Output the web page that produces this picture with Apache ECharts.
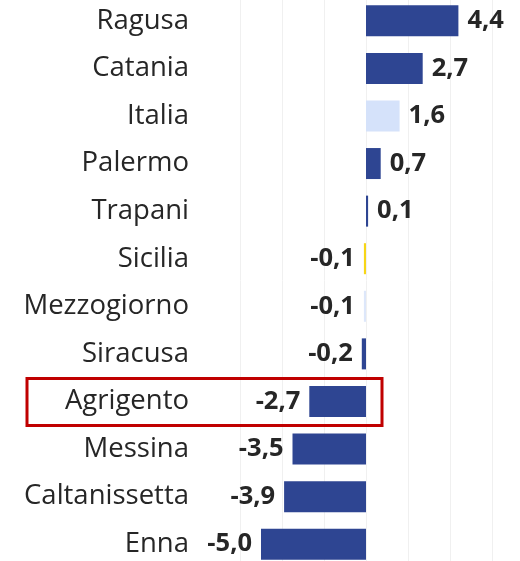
<!DOCTYPE html>
<html>
<head>
<meta charset="utf-8">
<script src="https://cdn.jsdelivr.net/npm/echarts@6/dist/echarts.min.js"></script>
<style>
  html, body { margin: 0; padding: 0; background: #ffffff; }
  #chart { width: 520px; height: 561px; }
</style>
</head>
<body>
<div id="chart"></div>
<script>
// ---- Data ----
var categories = ['Ragusa', 'Catania', 'Italia', 'Palermo', 'Trapani', 'Sicilia', 'Mezzogiorno', 'Siracusa', 'Agrigento', 'Messina', 'Caltanissetta', 'Enna'];
var values = [4.4, 2.7, 1.6, 0.7, 0.1, -0.1, -0.1, -0.2, -2.7, -3.5, -3.9, -5.0];
var highlighted = 'Agrigento';

// ---- Styles ----
var baseColor = '#2E4592';
var specialColors = { 'Italia': '#D5E2FA', 'Sicilia': '#F7D617', 'Mezzogiorno': '#DDE7FA' };
var textColor = '#262626';
var fontFamily = '"Open Sans", "Noto Sans", sans-serif';

function fmt(v) { return v.toFixed(1).replace('.', ','); }

var seriesData = categories.map(function (c, i) {
  var v = values[i];
  return {
    value: v,
    itemStyle: { color: specialColors[c] || baseColor },
    label: { position: v >= 0 ? 'right' : 'left' }
  };
});

var chart = echarts.init(document.getElementById('chart'), null, { renderer: 'canvas' });
chart.setOption({
  animation: false,
  backgroundColor: '#ffffff',
  grid: { left: 240, width: 294, top: -3, height: 571, containLabel: false, outerBoundsMode: 'none' },
  xAxis: {
    type: 'value',
    min: -6, max: 8, interval: 2,
    axisLine: { show: false },
    axisTick: { show: false },
    axisLabel: { show: false },
    splitLine: { show: true, lineStyle: { color: '#F0F0F0', width: 1 } }
  },
  yAxis: {
    type: 'category',
    data: categories,
    inverse: true,
    axisLine: { show: false },
    axisTick: { show: false },
    axisLabel: {
      margin: 51,
      color: textColor,
      fontFamily: fontFamily,
      fontSize: 27.5
    }
  },
  series: [{
    type: 'bar',
    data: seriesData,
    barWidth: 31,
    label: {
      show: true,
      distance: 9,
      color: textColor,
      fontFamily: fontFamily,
      fontWeight: 'bold',
      fontSize: 25.5,
      formatter: function (p) { return fmt(p.value); }
    }
  }]
});

// highlight box around the selected category row
var yc = chart.convertToPixel({ yAxisIndex: 0 }, highlighted);
chart.setOption({
  graphic: [{
    type: 'rect',
    shape: { x: 27, y: yc - 23, width: 355, height: 47 },
    style: { fill: 'none', stroke: '#C00000', lineWidth: 3 },
    z: 100
  }]
});
</script>
</body>
</html>
